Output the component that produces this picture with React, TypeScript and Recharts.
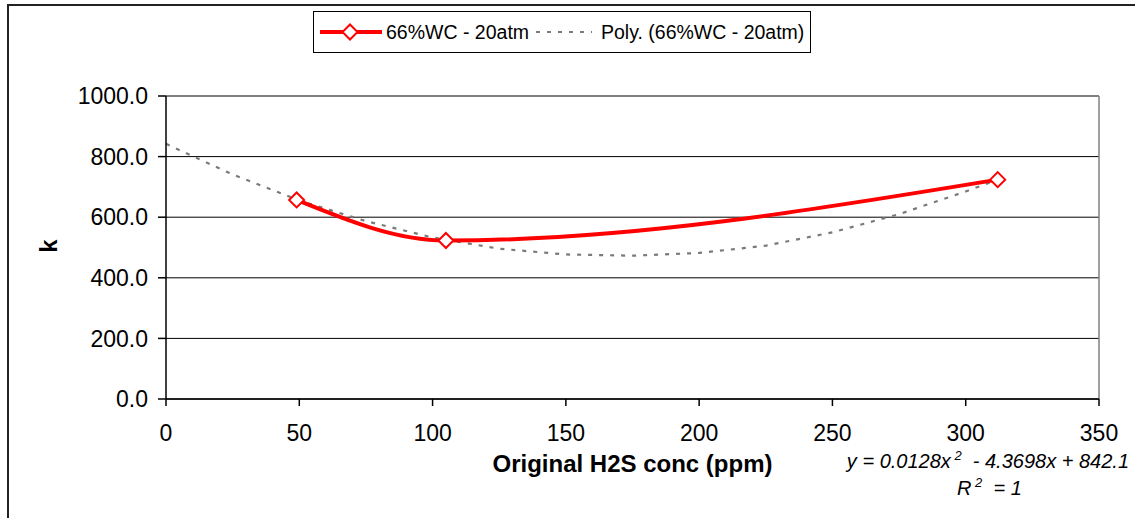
import React from "react";
import {
  LineChart,
  Line,
  XAxis,
  YAxis,
  CartesianGrid,
  ReferenceLine,
  Label,
} from "recharts";

// measured points
const concPpm = [49, 105, 312];
const kValues = [657, 523, 724];

// polynomial trendline
const trendConc = [0, 25, 50, 75, 100, 125, 150, 175, 200, 225, 250, 275, 300, 312];
const trendK = [842, 741, 655, 587, 533, 496, 477, 473, 482, 506, 550, 610, 685, 724];

const xTicks = [0, 50, 100, 150, 200, 250, 300, 350];
const yTicks = [0, 200, 400, 600, 800, 1000];

const seriesName = "66%WC - 20atm";
const trendName = "Poly. (66%WC - 20atm)";

const measured = concPpm.map((x, i) => ({ x, k: kValues[i] }));
const trend = trendConc.map((x, i) => ({ x, k: trendK[i] }));

const FONT = "'Liberation Sans', Arial, sans-serif";
const RED = "#ff0000";
const GREY = "#7a7a7a";

function Diamond(props: any) {
  const { cx, cy } = props;
  if (cx == null || cy == null) return null;
  const r = 7.5;
  return (
    <polygon
      points={`${cx},${cy - r} ${cx + r},${cy} ${cx},${cy + r} ${cx - r},${cy}`}
      fill="#fff"
      stroke={RED}
      strokeWidth={2}
    />
  );
}

function KLabel() {
  return (
    <text
      transform="translate(48,246) rotate(-90)"
      textAnchor="middle"
      dominantBaseline="central"
      fontSize={24}
      fontWeight="bold"
      fill="#000"
    >
      k
    </text>
  );
}

function LegendBox() {
  return (
    <svg
      width={498}
      height={42}
      style={{ position: "absolute", left: 313, top: 11, fontFamily: FONT }}
    >
      <rect x={0.5} y={0.5} width={497} height={41} fill="#fff" stroke="#000" />
      <line x1={7} y1={21} x2={69} y2={21} stroke={RED} strokeWidth={4} />
      <Diamond cx={37} cy={21} />
      <text x={73} y={28} fontSize={19.5} fill="#000">
        {seriesName}
      </text>
      <line
        x1={223}
        y1={21}
        x2={279}
        y2={21}
        stroke={GREY}
        strokeWidth={2}
        strokeDasharray="4 7"
      />
      <text x={288} y={28} fontSize={19.5} fill="#000">
        {trendName}
      </text>
    </svg>
  );
}

function Equation() {
  return (
    <svg
      width={1135}
      height={518}
      style={{ position: "absolute", left: 0, top: 0, pointerEvents: "none", fontFamily: FONT }}
    >
      <text
        x={1129}
        y={468}
        textAnchor="end"
        fontSize={20}
        fontStyle="italic"
        fill="#000"
        style={{ whiteSpace: "pre" }}
      >
        {"y = 0.0128x"}
        <tspan fontSize={13} dy={-8}>{" 2"}</tspan>
        <tspan dy={8}>{"  - 4.3698x + 842.1"}</tspan>
      </text>
      <text
        x={957}
        y={495}
        fontSize={20}
        fontStyle="italic"
        fill="#000"
        style={{ whiteSpace: "pre" }}
      >
        R<tspan fontSize={13} dy={-8}>{" 2"}</tspan>
        <tspan dy={8}>{"  = 1"}</tspan>
      </text>
    </svg>
  );
}

export default function App() {
  return (
    <div
      style={{
        position: "absolute",
        left: 0,
        top: 0,
        width: 1135,
        height: 518,
        background: "#fff",
        fontFamily: FONT,
        overflow: "hidden",
      }}
    >
      <div
        style={{
          position: "absolute",
          left: 7,
          top: 4,
          width: 1128,
          height: 514,
          boxSizing: "border-box",
          borderLeft: "2px solid #222",
          borderTop: "2px solid #222",
        }}
      />
      <LineChart
        width={1135}
        height={518}
        margin={{ top: 96, right: 36, left: 0, bottom: 0 }}
        style={{ position: "absolute", left: 0, top: 0 }}
      >
        <CartesianGrid vertical={false} stroke="#000" strokeWidth={1} />
        <XAxis
          type="number"
          dataKey="x"
          domain={[0, 350]}
          ticks={xTicks}
          height={119}
          tickSize={7}
          tickMargin={19}
          tick={{ fontSize: 23, fill: "#000" }}
          axisLine={{ stroke: "#000", strokeWidth: 1.5 }}
          tickLine={{ stroke: "#000", strokeWidth: 1.5 }}
          allowDuplicatedCategory={false}
        >
          <Label
            value="Original H2S conc (ppm)"
            position="insideTop"
            offset={56}
            fontSize={24}
            fontWeight="bold"
            fill="#000"
          />
        </XAxis>
        <YAxis
          type="number"
          domain={[0, 1000]}
          ticks={yTicks}
          width={166}
          tickSize={8}
          tickMargin={10}
          tickFormatter={(v) => Number(v).toFixed(1)}
          tick={{ fontSize: 23, fill: "#000" }}
          axisLine={{ stroke: "#000", strokeWidth: 1.5 }}
          tickLine={{ stroke: "#000", strokeWidth: 1.5 }}
        >
          <Label content={KLabel} />
        </YAxis>
        <ReferenceLine y={1000} stroke="#808080" strokeWidth={1.5} />
        <ReferenceLine x={350} stroke="#808080" strokeWidth={1.5} />
        <Line
          data={trend}
          dataKey="k"
          name={trendName}
          type="linear"
          stroke={GREY}
          strokeWidth={2.2}
          strokeDasharray="4 7"
          dot={false}
          activeDot={false}
          isAnimationActive={false}
        />
        <Line
          data={measured}
          dataKey="k"
          name={seriesName}
          type="monotone"
          stroke={RED}
          strokeWidth={4}
          dot={<Diamond />}
          activeDot={false}
          isAnimationActive={false}
        />
      </LineChart>
      <LegendBox />
      <Equation />
    </div>
  );
}
